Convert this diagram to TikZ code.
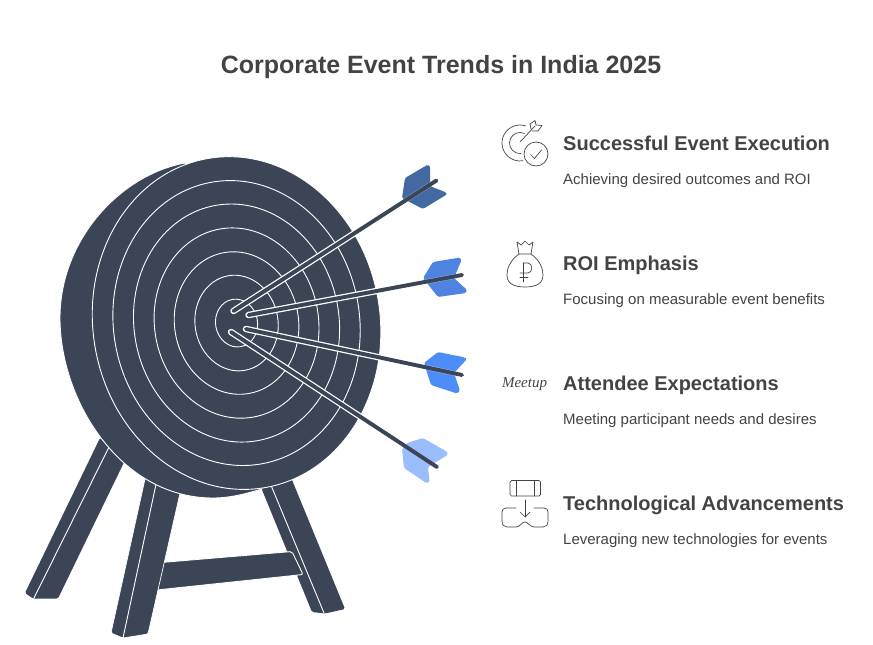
\documentclass[tikz,border=0pt]{standalone}
\usepackage{fontspec}
\usetikzlibrary{calc}
\setmainfont{Liberation Sans}
\newfontfamily\handfont{Liberation Serif}
\definecolor{boarddark}{HTML}{3B4556}
\definecolor{textdark}{HTML}{434343}
\definecolor{vaneone}{HTML}{4468A2}
\definecolor{vanetwo}{HTML}{4F83E1}
\definecolor{vanethree}{HTML}{4C8DF8}
\definecolor{vanefour}{HTML}{99BDFD}
\tikzset{
	titletext/.style={font=\fontsize{25}{30}\selectfont\bfseries, text=textdark, anchor=base, inner sep=0pt},
	headtext/.style={font=\fontsize{20}{24}\selectfont\bfseries, text=textdark, anchor=base west, inner sep=0pt},
	subtext/.style={font=\fontsize{15}{18}\selectfont, text=textdark, anchor=base west, inner sep=0pt},
	boardpart/.style={fill=boarddark, draw=white, line width=0.9pt, line join=round},
	legpart/.style={fill=boarddark, rounded corners=1.5pt},
	ringline/.style={draw=white, line width=0.9pt},
	shaftback/.style={draw=white, line width=6.4pt, line cap=round},
	shaftseam/.style={draw=white, opacity=0.3, line width=5pt},
	shaftfront/.style={draw=boarddark, line width=3.9pt, line cap=round},
	vanepart/.style={rounded corners=1.5pt},
	iconline/.style={draw=textdark, line width=0.7pt, line cap=round, line join=round},
}
\begin{document}
\begin{tikzpicture}[x=1pt, y=-1pt]
	\useasboundingbox (0,0) rectangle (873,645);

	\node(title)[titletext] at (441,73.5){Corporate Event Trends in India 2025};

	\fill[legpart] (100,438) -- (25,593) -- (33,598.5) -- (58,598.5) -- (130,450) -- cycle;
	\draw[ringline] (110,445) -- (34,598);
	\fill[legpart] (258,480) -- (312,612) -- (325,613.5) -- (345,609) -- (290,475) -- cycle;
	\draw[ringline] (268,478) -- (324,613);
	\draw[fill=boarddark, draw=white, line width=0.9pt, rounded corners=2pt] (155,563) -- (292,551.5) -- (303,574.5) -- (152,590.5) -- cycle;
	\draw[fill=boarddark, draw=white, line width=0.7pt, rounded corners=1.5pt] (147,470) -- (111,633) -- (123,638) -- (148,634) -- (183,480) -- cycle;
	\draw[ringline] (158,475) -- (123,638);

	\coordinate(ringcenter) at (236.5,323);
	\draw[boardpart] (185,163) .. controls (120,175) and (60,240) .. (60,318) .. controls (60,400) and (120,498) .. (213,498) .. controls (230,498) and (245,494) .. (262,489) -- (240,320) -- cycle;
	\fill[boarddark, rotate around={10:(ringcenter)}] (ringcenter) ellipse [x radius=143.5, y radius=167];
	\foreach \rx/\ry in {21/24, 41.5/48, 62/71.5, 82/95.5, 102.5/119.5, 123/143, 143.5/167}
		\draw[ringline, rotate around={10:(ringcenter)}] (ringcenter) ellipse [x radius=\rx, y radius=\ry];

	\coordinate(tipone) at (233.5,311);
	\coordinate(endone) at (436.5,180.5);
	\coordinate(tiptwo) at (248.5,315);
	\coordinate(endtwo) at (462,275);
	\coordinate(tipthree) at (246,329);
	\coordinate(endthree) at (462,375);
	\coordinate(tipfour) at (231,332);
	\coordinate(endfour) at (437,467);

	\foreach \a in {one,two,three,four}
		\draw[shaftback] (tip\a) -- (end\a);

	\fill[vanepart, vaneone] (428,164.5) -- (405,178) -- (402,198) -- (423,209) -- (447.5,194) -- (445,192) -- (430,186) -- (430,166) -- cycle;
	\fill[vanepart, vanetwo] (460,257.5) -- (433,262) -- (423,278) -- (438,297) -- (466,293) -- (467,290) -- (454,278) -- (461.5,260) -- cycle;
	\fill[vanepart, vanethree] (438,352) -- (424,363) -- (431,385) -- (457,393.5) -- (460,391) -- (454,373) -- (467,359) -- (465,357.5) -- cycle;
	\fill[vanepart, vanefour] (423,438) -- (407,443) -- (402,449) -- (404,468) -- (427,483.5) -- (429.5,482) -- (428,467) -- (447.5,455) -- (447.5,452) -- cycle;

	\draw[shaftseam] ($(tipone)!0.84!(endone)$) -- (endone);
	\draw[shaftseam] ($(tiptwo)!0.82!(endtwo)$) -- (endtwo);
	\draw[shaftseam] ($(tipthree)!0.82!(endthree)$) -- (endthree);
	\foreach \a in {one,two,three,four}
		\draw[shaftfront] (tip\a) -- (end\a);

	\node(headone)[headtext] at (563,150){Successful Event Execution};
	\node(subone)[subtext] at (563,184){Achieving desired outcomes and ROI};
	\node(headtwo)[headtext] at (563,270){ROI Emphasis};
	\node(subtwo)[subtext] at (563,304){Focusing on measurable event benefits};
	\node(headthree)[headtext] at (563,390){Attendee Expectations};
	\node(subthree)[subtext] at (563,424){Meeting participant needs and desires};
	\node(headfour)[headtext] at (563,510){Technological Advancements};
	\node(subfour)[subtext] at (563,544){Leveraging new technologies for events};

	\coordinate(targetcenter) at (520,143);
	\draw[iconline] (targetcenter) ++(-72:18) arc [start angle=-72, end angle=-280, radius=18];
	\draw[iconline] (targetcenter) ++(-65:10.5) arc [start angle=-65, end angle=-275, radius=10.5];
	\draw[iconline] (520,142) -- (535,126);
	\draw[iconline] (531,129) -- (530,124) -- (535,120.5) -- (536,125) -- (542,125.5) -- (538,131) -- (532,131);
	\node(checkcircle)[circle, iconline, minimum size=24pt, inner sep=0pt] at (536,154){};
	\draw[iconline] (530.5,154.5) -- (534.5,158.5) -- (541.5,150);

	\draw[iconline] (519,254) .. controls (509,261) and (507,270) .. (507,275) .. controls (507,283) and (513,287) .. (525,287) .. controls (537,287) and (543,283) .. (543,275) .. controls (543,270) and (541,261) .. (531,254) -- cycle;
	\draw[iconline] (519,254) -- (517,242) -- (521,245) -- (525,241) -- (529,245) -- (533,242) -- (531,254);
	\draw[iconline] (523,263) -- (523,282);
	\draw[iconline] (523,263) -- (528,263) .. controls (533,263) and (533,273) .. (528,273) -- (520,273);
	\draw[iconline] (520,277) -- (528,277);

	\node(meetupword)[font=\fontsize{15}{15}\selectfont\handfont\itshape, text=textdark, inner sep=0pt, anchor=base] at (524.5,387){Meetup};

	\draw[iconline, rounded corners=1.5pt] (510,480.5) rectangle (540.5,496);
	\draw[iconline] (516,480.5) -- (516,496);
	\draw[iconline] (534,480.5) -- (534,496);
	\draw[iconline] (525,500) -- (525,517);
	\draw[iconline] (520,512) -- (525,517) -- (530,512);
	\draw[iconline] (516,508) -- (506,508) .. controls (503,508) and (502,510) .. (502,512) -- (502,521) .. controls (502,525) and (504,527) .. (507,527) -- (516,527) .. controls (520,527) and (522,522) .. (525,522) .. controls (528,522) and (530,527) .. (534,527) -- (543,527) .. controls (546,527) and (548,525) .. (548,521) -- (548,512) .. controls (548,510) and (547,508) .. (544,508) -- (534,508);
\end{tikzpicture}
\end{document}
